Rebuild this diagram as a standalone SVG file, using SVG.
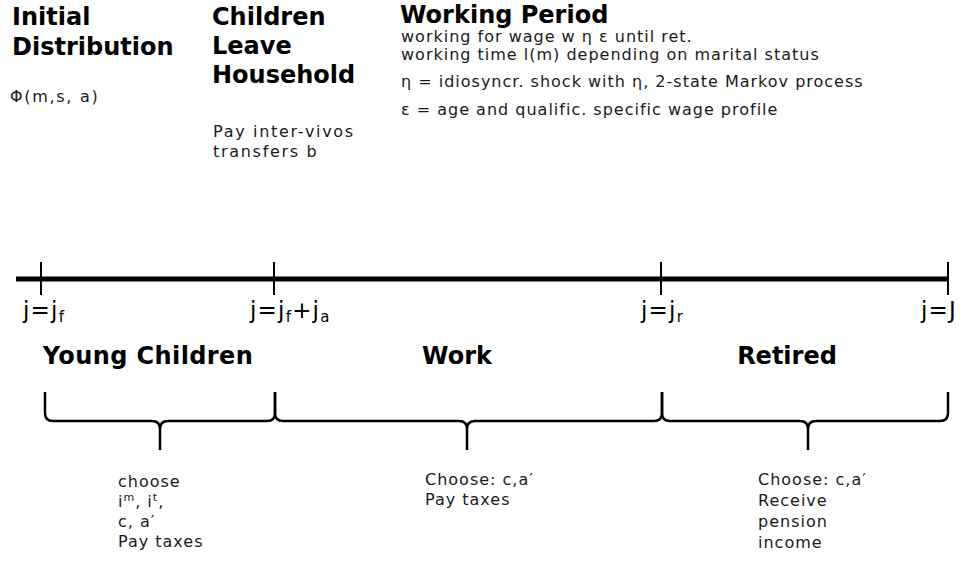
<svg xmlns="http://www.w3.org/2000/svg" width="963" height="562" viewBox="0 0 963 562">
<style>
.h{font-family:"DejaVu Sans",Verdana,sans-serif;font-weight:bold;font-size:24px;fill:#000}
.p{font-family:"DejaVu Sans",Verdana,sans-serif;font-weight:bold;font-size:24px;fill:#000;text-anchor:middle}
.t{font-family:"DejaVu Sans",Verdana,sans-serif;font-size:16px;letter-spacing:1px;fill:#1a1a1a}
.tl{font-family:"DejaVu Sans",Verdana,sans-serif;font-size:16px;letter-spacing:1.7px;fill:#1a1a1a}
.j{font-family:"DejaVu Sans",Verdana,sans-serif;font-size:23px;letter-spacing:1.2px;fill:#000}
.s{font-size:15px}
.line{stroke:#000;fill:none}
.brace{stroke:#000;stroke-width:2.5;fill:none;stroke-linejoin:round}
</style>
<rect width="963" height="562" fill="#fff"/>
<g id="initial-distribution">
<text class="h" x="12" y="25">Initial</text>
<text class="h" x="12" y="55">Distribution</text>
<text class="tl" x="10" y="102">Φ(m,s, a)</text>
</g>
<g id="children-leave">
<text class="h" x="212" y="25" font-size="24.5">Children</text>
<text class="h" x="212" y="54" font-size="24.5">Leave</text>
<text class="h" x="212" y="83" font-size="24.5">Household</text>
<text class="tl" x="213" y="137">Pay inter-vivos</text>
<text class="tl" x="213" y="157">transfers b</text>
</g>
<g id="working-period">
<text class="h" x="400" y="23" font-size="25">Working Period</text>
<text class="t" x="401" y="42">working for wage w η ε until ret.</text>
<text class="t" x="401" y="60">working time l(m) depending on marital status</text>
<text class="t" x="401" y="87">η = idiosyncr. shock with η, 2-state Markov process</text>
<text class="t" x="401" y="115">ε = age and qualific. specific wage profile</text>
</g>
<g id="connectors">
<line class="line" x1="16" y1="279" x2="949" y2="279" stroke-width="5"/>
<line class="line" x1="41" y1="262" x2="41" y2="295" stroke-width="2"/>
<line class="line" x1="274" y1="262" x2="274" y2="295" stroke-width="2"/>
<line class="line" x1="661" y1="262" x2="661" y2="295" stroke-width="2"/>
<line class="line" x1="948" y1="262" x2="948" y2="295" stroke-width="2"/>
<path class="brace" d="M45,392 L45,413 Q45,421 53,421 L152,421 Q160,421 160,429 L160,450 M160,429 Q160,421 168,421 L267,421 Q275,421 275,413 L275,392"/>
<path class="brace" d="M275,392 L275,413 Q275,421 283,421 L459,421 Q467,421 467,429 L467,450 M467,429 Q467,421 475,421 L654,421 Q662,421 662,413 L662,392"/>
<path class="brace" d="M662,392 L662,413 Q662,421 670,421 L800,421 Q808,421 808,429 L808,450 M808,429 Q808,421 816,421 L940,421 Q948,421 948,413 L948,392"/>
</g>
<g id="tick-labels">
<text class="j" x="23" y="318">j=j<tspan class="s" dy="4">f</tspan></text>
<text class="j" x="250" y="318">j=j<tspan class="s" dy="4">f</tspan><tspan dy="-4">+j</tspan><tspan class="s" dy="4">a</tspan></text>
<text class="j" x="641" y="318">j=j<tspan class="s" dy="4">r</tspan></text>
<text class="j" x="921" y="318">j=J</text>
</g>
<g id="young-children">
<text class="p" x="148" y="364" letter-spacing="0.4">Young Children</text>
<text class="t" x="118" y="487">choose</text>
<text class="t" x="118" y="507">i<tspan font-size="11" dy="-6">m</tspan><tspan dy="6">, i</tspan><tspan font-size="11" dy="-6">t</tspan><tspan dy="6">,</tspan></text>
<text class="t" x="118" y="527">c, a′</text>
<text class="t" x="118" y="547">Pay taxes</text>
</g>
<g id="work">
<text class="p" x="457" y="364">Work</text>
<text class="t" x="425" y="485">Choose:  c,a′</text>
<text class="t" x="425" y="505">Pay taxes</text>
</g>
<g id="retired">
<text class="p" x="787" y="364">Retired</text>
<text class="t" x="758" y="485">Choose:  c,a′</text>
<text class="t" x="758" y="506">Receive</text>
<text class="t" x="758" y="527">pension</text>
<text class="t" x="758" y="548">income</text>
</g>
</svg>
